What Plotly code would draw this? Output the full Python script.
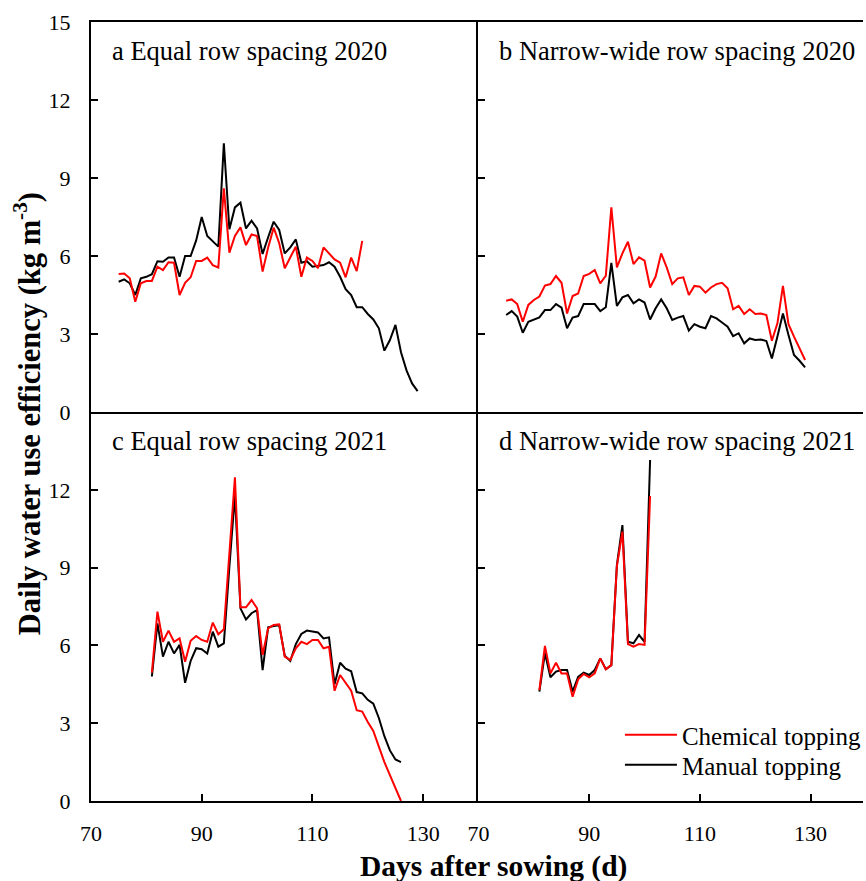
import plotly.graph_objects as go

# ---- data: daily water use efficiency (kg m-3) by days after sowing ----
panel_titles = ["a Equal row spacing 2020", "b Narrow-wide row spacing 2020",
                "c Equal row spacing 2021", "d Narrow-wide row spacing 2021"]
series_names = ["Chemical topping", "Manual topping"]

# a  Equal row spacing 2020
a_chem_start = 75
a_chem = [5.31, 5.33, 5.14, 4.24, 4.95, 5.04, 5.04, 5.59, 5.46, 5.76, 5.74, 4.50,
          4.97, 5.18, 5.81, 5.81, 5.94, 5.65, 5.56, 8.60, 6.13, 6.77, 7.10, 6.42,
          6.83, 6.77, 5.40, 6.33, 7.09, 6.49, 5.53, 5.94, 6.36, 5.20, 5.94, 5.81,
          5.53, 6.33, 6.08, 5.87, 5.74, 5.18, 5.94, 5.42, 6.58]
a_man_start = 75
a_man = [5.01, 5.10, 4.95, 4.50, 5.14, 5.20, 5.30, 5.80, 5.78, 5.94, 5.94, 5.20,
         6.00, 6.00, 6.60, 7.50, 6.77, 6.55, 6.36, 10.33, 7.03, 7.87, 8.05, 7.06,
         7.36, 7.06, 6.08, 6.72, 7.32, 7.00, 6.10, 6.33, 6.64, 5.74, 5.80, 5.59,
         5.62, 5.65, 5.76, 5.59, 5.20, 4.72, 4.50, 4.03, 4.03, 3.77, 3.56, 3.22,
         2.36, 2.77, 3.35, 2.30, 1.60, 1.10, 0.80]

# b  Narrow-wide row spacing 2020
b_chem_start = 75
b_chem = [4.28, 4.33, 4.15, 3.47, 4.12, 4.31, 4.44, 4.86, 4.92, 5.23, 4.97, 3.79,
          4.46, 4.56, 5.23, 5.31, 5.46, 4.95, 5.24, 7.87, 5.56, 6.10, 6.55, 5.69,
          5.95, 5.82, 4.79, 5.21, 6.10, 5.56, 4.92, 5.14, 5.18, 4.50, 4.85, 4.82,
          4.59, 4.79, 4.92, 4.97, 4.76, 3.95, 4.08, 3.77, 3.95, 3.77, 3.79, 3.73,
          2.74, 3.41, 4.85, 3.38, 2.90, 2.45, 2.00]
b_man_start = 75
b_man = [3.73, 3.88, 3.67, 3.05, 3.47, 3.56, 3.64, 3.92, 3.92, 4.15, 4.01, 3.22,
         3.63, 3.69, 4.15, 4.15, 4.15, 3.88, 4.03, 5.74, 4.08, 4.41, 4.50, 4.18,
         4.33, 4.21, 3.56, 3.99, 4.33, 3.99, 3.54, 3.63, 3.69, 3.13, 3.38, 3.28,
         3.22, 3.69, 3.60, 3.44, 3.28, 2.92, 3.03, 2.64, 2.83, 2.77, 2.79, 2.73,
         2.06, 2.90, 3.79, 2.96, 2.19, 1.97, 1.72]

# c  Equal row spacing 2021
c_chem_start = 81
c_chem = [4.95, 7.30, 6.14, 6.57, 6.14, 6.27, 5.37, 6.18, 6.36, 6.21, 6.14, 6.88,
          6.43, 6.62, 9.55, 12.48, 7.47, 7.47, 7.75, 7.43, 5.63, 6.66, 6.79, 6.81,
          5.57, 5.44, 5.89, 6.14, 6.05, 6.21, 6.21, 5.89, 5.95, 4.25, 4.86, 4.55,
          4.25, 3.50, 3.45, 3.05, 2.70, 2.10, 1.50, 1.00, 0.50, 0.00]
c_man_start = 81
c_man = [4.80, 6.85, 5.57, 6.14, 5.69, 6.02, 4.56, 5.40, 5.89, 5.85, 5.69, 6.53,
         5.95, 6.08, 9.04, 11.80, 7.43, 7.00, 7.24, 7.36, 5.05, 6.70, 6.75, 6.78,
         5.60, 5.40, 6.05, 6.44, 6.57, 6.52, 6.50, 6.27, 6.31, 4.50, 5.33, 5.10,
         5.00, 4.20, 4.15, 3.90, 3.75, 3.20, 2.50, 1.95, 1.60, 1.50]

# d  Narrow-wide row spacing 2021
d_chem_start = 81
d_chem = [4.28, 5.98, 4.92, 5.33, 4.92, 4.92, 4.02, 4.69, 4.90, 4.77, 4.92, 5.50,
          5.08, 5.24, 9.06, 10.39, 6.05, 5.95, 6.05, 6.02, 11.76]
d_man_start = 81
d_man = [4.22, 5.70, 4.77, 4.99, 5.05, 5.05, 4.22, 4.79, 4.95, 4.86, 5.05, 5.50,
         5.08, 5.24, 9.10, 10.64, 6.14, 6.08, 6.40, 6.14, 13.15]

x_ticks = [70, 90, 110, 130]
y_ticks_top = [0, 3, 6, 9, 12, 15]
y_ticks_bottom = [0, 3, 6, 9, 12]

# ---- figure geometry (pixels) ----
W, H = 866, 881
ML, MR, MT, MB = 91, 0, 22, 80
PW, PH = W - ML - MR, H - MT - MB
X_DIV, Y_DIV = 480, 412
x_split = (X_DIV - ML) / PW
y_split = (H - MB - Y_DIV) / PH
px_per_day = 5.557
left_range = [70, 70 + (X_DIV - ML) / px_per_day]
right_range = [70, 70 + (W - MR - X_DIV) / px_per_day]


def px_x(px):
    return (px - ML) / PW


def px_y(px):
    return (H - MB - px) / PH


FONT = "Liberation Serif"
RED, BLACK = "#ff0000", "#000000"

fig = go.Figure()

panels = [
    ("x", "y", a_chem_start, a_chem, a_man_start, a_man),
    ("x2", "y2", b_chem_start, b_chem, b_man_start, b_man),
    ("x3", "y3", c_chem_start, c_chem, c_man_start, c_man),
    ("x4", "y4", d_chem_start, d_chem, d_man_start, d_man),
]
for i, (xa, ya, cs, cv, ms, mv) in enumerate(panels):
    fig.add_trace(go.Scatter(
        x=list(range(ms, ms + len(mv))), y=mv, xaxis=xa, yaxis=ya,
        mode="lines", line=dict(color=BLACK, width=2),
        name=series_names[1], showlegend=(i == 0), legend="legend2"))
    fig.add_trace(go.Scatter(
        x=list(range(cs, cs + len(cv))), y=cv, xaxis=xa, yaxis=ya,
        mode="lines", line=dict(color=RED, width=2),
        name=series_names[0], showlegend=(i == 0), legend="legend"))

axis_common = dict(showline=True, linecolor=BLACK, linewidth=2, showgrid=False,
                   zeroline=False, ticks="inside", ticklen=7, tickwidth=1.5,
                   tickcolor=BLACK, tickfont=dict(family=FONT, size=22, color=BLACK))

legend_common = dict(xanchor="left", yanchor="middle", bgcolor="rgba(0,0,0,0)",
                     itemwidth=52, font=dict(family=FONT, size=25, color=BLACK))

fig.update_layout(
    width=W, height=H,
    margin=dict(l=ML, r=MR, t=MT, b=MB, pad=0),
    paper_bgcolor="white", plot_bgcolor="white",
    font=dict(family=FONT, color=BLACK),
    xaxis=dict(axis_common, domain=[0, x_split], range=left_range, anchor="y",
               ticks="", showticklabels=False, mirror=True),
    xaxis2=dict(axis_common, domain=[x_split, 1], range=right_range, anchor="y2",
                ticks="", showticklabels=False, mirror=True),
    xaxis3=dict(axis_common, domain=[0, x_split], range=left_range, anchor="y3",
                tickvals=x_ticks, ticklabelstandoff=12),
    xaxis4=dict(axis_common, domain=[x_split, 1], range=right_range, anchor="y4",
                tickvals=x_ticks, ticklabelstandoff=12),
    yaxis=dict(axis_common, domain=[y_split, 1], range=[0, 15], anchor="x",
               tickvals=y_ticks_top, ticklabelstandoff=14),
    yaxis2=dict(axis_common, domain=[y_split, 1], range=[0, 15], anchor="x2",
                tickvals=y_ticks_top, showticklabels=False),
    yaxis3=dict(axis_common, domain=[0, y_split], range=[0, 15], anchor="x3",
                tickvals=y_ticks_bottom, ticklabelstandoff=14),
    yaxis4=dict(axis_common, domain=[0, y_split], range=[0, 15], anchor="x4",
                tickvals=y_ticks_bottom, showticklabels=False),
    showlegend=True,
    legend=dict(legend_common, x=px_x(622), y=px_y(735)),
    legend2=dict(legend_common, x=px_x(622), y=px_y(765)),
)

# panel labels
for (xa, ya), title in zip([("x", "y"), ("x2", "y2"), ("x3", "y3"), ("x4", "y4")], panel_titles):
    fig.add_annotation(text=title, xref=f"{xa} domain", yref=f"{ya} domain",
                       x=0.048, y=0.925, xanchor="left", yanchor="middle",
                       showarrow=False, font=dict(family=FONT, size=26.5, color=BLACK))

# shared axis titles
fig.add_annotation(text="<b>Daily water use efficiency (kg m<sup>-3</sup>)</b>",
                   xref="paper", yref="paper", x=px_x(27), y=px_y(414),
                   xanchor="center", yanchor="middle", textangle=-90, showarrow=False,
                   font=dict(family=FONT, size=30.5, color=BLACK))
fig.add_annotation(text="<b>Days after sowing (d)</b>",
                   xref="paper", yref="paper", x=px_x(495), y=px_y(866),
                   xanchor="center", yanchor="middle", showarrow=False,
                   font=dict(family=FONT, size=29.5, color=BLACK))

fig.write_html("out.html")
